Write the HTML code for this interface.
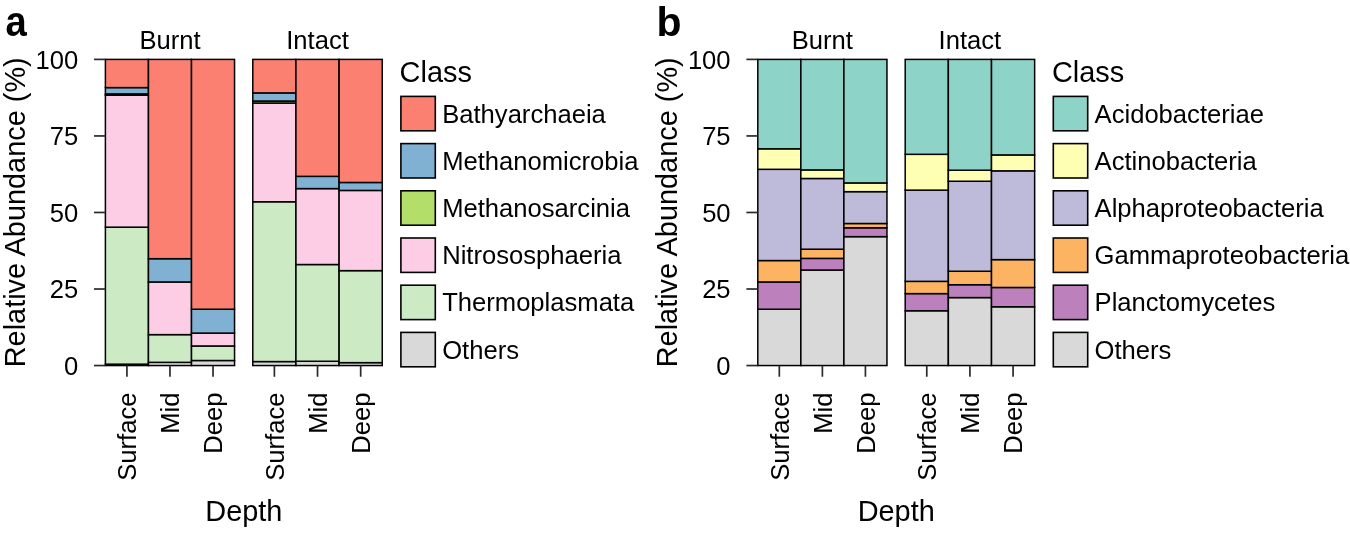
<!DOCTYPE html>
<html><head><meta charset="utf-8"><style>
html,body{margin:0;padding:0;background:#fff;}
body{width:1350px;height:535px;overflow:hidden;}
svg{display:block;will-change:transform;}
.t{font-family:"Liberation Sans",sans-serif;font-size:25.6px;}
.tt{font-family:"Liberation Sans",sans-serif;font-size:28.9px;}
.lab{font-family:"Liberation Sans",sans-serif;font-size:42px;font-weight:bold;}
</style></head><body>
<svg width="1350" height="535" viewBox="0 0 1350 535">
<rect width="1350" height="535" fill="#fff"/>
<g stroke="#000" stroke-width="1.5"><rect x="105.4" y="364.17" width="43.05" height="1.38" fill="#D9D9D9"/><rect x="105.4" y="227.17" width="43.05" height="137" fill="#CCEBC5"/><rect x="105.4" y="95.22" width="43.05" height="131.95" fill="#FCCDE5"/><rect x="105.4" y="93.9" width="43.05" height="1.32" fill="#B3DE69"/><rect x="105.4" y="87.6" width="43.05" height="6.31" fill="#80B1D3"/><rect x="105.4" y="59.4" width="43.05" height="28.2" fill="#FB8072"/><rect x="148.45" y="362.34" width="43.05" height="3.21" fill="#D9D9D9"/><rect x="148.45" y="334.63" width="43.05" height="27.71" fill="#CCEBC5"/><rect x="148.45" y="281.97" width="43.05" height="52.66" fill="#FCCDE5"/><rect x="148.45" y="258.7" width="43.05" height="23.27" fill="#80B1D3"/><rect x="148.45" y="59.4" width="43.05" height="199.3" fill="#FB8072"/><rect x="191.5" y="360.5" width="43.05" height="5.05" fill="#D9D9D9"/><rect x="191.5" y="345.96" width="43.05" height="14.54" fill="#CCEBC5"/><rect x="191.5" y="333.1" width="43.05" height="12.86" fill="#FCCDE5"/><rect x="191.5" y="309.22" width="43.05" height="23.88" fill="#80B1D3"/><rect x="191.5" y="59.4" width="43.05" height="249.82" fill="#FB8072"/><rect x="252.8" y="361.57" width="43.15" height="3.98" fill="#D9D9D9"/><rect x="252.8" y="201.76" width="43.15" height="159.81" fill="#CCEBC5"/><rect x="252.8" y="103.03" width="43.15" height="98.73" fill="#FCCDE5"/><rect x="252.8" y="101.04" width="43.15" height="1.99" fill="#B3DE69"/><rect x="252.8" y="92.92" width="43.15" height="8.11" fill="#80B1D3"/><rect x="252.8" y="59.4" width="43.15" height="33.52" fill="#FB8072"/><rect x="295.95" y="361.26" width="43.15" height="4.29" fill="#D9D9D9"/><rect x="295.95" y="264.52" width="43.15" height="96.74" fill="#CCEBC5"/><rect x="295.95" y="188.6" width="43.15" height="75.93" fill="#FCCDE5"/><rect x="295.95" y="176.35" width="43.15" height="12.25" fill="#80B1D3"/><rect x="295.95" y="59.4" width="43.15" height="116.95" fill="#FB8072"/><rect x="339.1" y="362.64" width="43.15" height="2.91" fill="#D9D9D9"/><rect x="339.1" y="270.64" width="43.15" height="92" fill="#CCEBC5"/><rect x="339.1" y="190.43" width="43.15" height="80.21" fill="#FCCDE5"/><rect x="339.1" y="182.47" width="43.15" height="7.96" fill="#80B1D3"/><rect x="339.1" y="59.4" width="43.15" height="123.07" fill="#FB8072"/><rect x="757.8" y="309.22" width="43.05" height="56.33" fill="#D9D9D9"/><rect x="757.8" y="281.97" width="43.05" height="27.25" fill="#BC80BD"/><rect x="757.8" y="260.54" width="43.05" height="21.43" fill="#FDB462"/><rect x="757.8" y="169.31" width="43.05" height="91.23" fill="#BEBADA"/><rect x="757.8" y="148.8" width="43.05" height="20.51" fill="#FFFFB3"/><rect x="757.8" y="59.4" width="43.05" height="89.4" fill="#8DD3C7"/><rect x="800.85" y="270.03" width="43.05" height="95.52" fill="#D9D9D9"/><rect x="800.85" y="258.4" width="43.05" height="11.63" fill="#BC80BD"/><rect x="800.85" y="249.21" width="43.05" height="9.18" fill="#FDB462"/><rect x="800.85" y="178.49" width="43.05" height="70.72" fill="#BEBADA"/><rect x="800.85" y="169.92" width="43.05" height="8.57" fill="#FFFFB3"/><rect x="800.85" y="59.4" width="43.05" height="110.52" fill="#8DD3C7"/><rect x="843.9" y="236.66" width="43.05" height="128.89" fill="#D9D9D9"/><rect x="843.9" y="227.78" width="43.05" height="8.88" fill="#BC80BD"/><rect x="843.9" y="223.5" width="43.05" height="4.29" fill="#FDB462"/><rect x="843.9" y="191.66" width="43.05" height="31.84" fill="#BEBADA"/><rect x="843.9" y="182.93" width="43.05" height="8.73" fill="#FFFFB3"/><rect x="843.9" y="59.4" width="43.05" height="123.53" fill="#8DD3C7"/><rect x="905.2" y="310.75" width="43.15" height="54.8" fill="#D9D9D9"/><rect x="905.2" y="293.6" width="43.15" height="17.14" fill="#BC80BD"/><rect x="905.2" y="281.36" width="43.15" height="12.25" fill="#FDB462"/><rect x="905.2" y="190.13" width="43.15" height="91.23" fill="#BEBADA"/><rect x="905.2" y="154.31" width="43.15" height="35.82" fill="#FFFFB3"/><rect x="905.2" y="59.4" width="43.15" height="94.91" fill="#8DD3C7"/><rect x="948.35" y="297.58" width="43.15" height="67.97" fill="#D9D9D9"/><rect x="948.35" y="284.73" width="43.15" height="12.86" fill="#BC80BD"/><rect x="948.35" y="271.26" width="43.15" height="13.47" fill="#FDB462"/><rect x="948.35" y="181.25" width="43.15" height="90.01" fill="#BEBADA"/><rect x="948.35" y="170.23" width="43.15" height="11.02" fill="#FFFFB3"/><rect x="948.35" y="59.4" width="43.15" height="110.83" fill="#8DD3C7"/><rect x="991.5" y="306.77" width="43.15" height="58.78" fill="#D9D9D9"/><rect x="991.5" y="287.48" width="43.15" height="19.29" fill="#BC80BD"/><rect x="991.5" y="259.62" width="43.15" height="27.86" fill="#FDB462"/><rect x="991.5" y="170.84" width="43.15" height="88.78" fill="#BEBADA"/><rect x="991.5" y="154.92" width="43.15" height="15.92" fill="#FFFFB3"/><rect x="991.5" y="59.4" width="43.15" height="95.52" fill="#8DD3C7"/></g>
<g stroke="#2b2b2b" stroke-width="1.7" stroke-linecap="butt"><line x1="94" y1="365.55" x2="105.4" y2="365.55"/><line x1="94" y1="289.01" x2="105.4" y2="289.01"/><line x1="94" y1="212.47" x2="105.4" y2="212.47"/><line x1="94" y1="135.94" x2="105.4" y2="135.94"/><line x1="94" y1="59.4" x2="105.4" y2="59.4"/><line x1="126.92" y1="365.55" x2="126.92" y2="376.75"/><line x1="169.97" y1="365.55" x2="169.97" y2="376.75"/><line x1="213.03" y1="365.55" x2="213.03" y2="376.75"/><line x1="274.38" y1="365.55" x2="274.38" y2="376.75"/><line x1="317.52" y1="365.55" x2="317.52" y2="376.75"/><line x1="360.68" y1="365.55" x2="360.68" y2="376.75"/><line x1="746.4" y1="365.55" x2="757.8" y2="365.55"/><line x1="746.4" y1="289.01" x2="757.8" y2="289.01"/><line x1="746.4" y1="212.47" x2="757.8" y2="212.47"/><line x1="746.4" y1="135.94" x2="757.8" y2="135.94"/><line x1="746.4" y1="59.4" x2="757.8" y2="59.4"/><line x1="779.32" y1="365.55" x2="779.32" y2="376.75"/><line x1="822.38" y1="365.55" x2="822.38" y2="376.75"/><line x1="865.42" y1="365.55" x2="865.42" y2="376.75"/><line x1="926.77" y1="365.55" x2="926.77" y2="376.75"/><line x1="969.92" y1="365.55" x2="969.92" y2="376.75"/><line x1="1013.08" y1="365.55" x2="1013.08" y2="376.75"/></g>
<g fill="#000"><text class="lab" transform="translate(5.6,36.4) scale(0.91,1.02)">a</text><text class="t" x="169.98" y="49.1" text-anchor="middle">Burnt</text><text class="t" x="317.52" y="49.1" text-anchor="middle">Intact</text><text class="t" x="78.2" y="374.85" text-anchor="end">0</text><text class="t" x="78.2" y="298.31" text-anchor="end">25</text><text class="t" x="78.2" y="221.78" text-anchor="end">50</text><text class="t" x="78.2" y="145.24" text-anchor="end">75</text><text class="t" x="78.2" y="68.7" text-anchor="end">100</text><text class="tt" transform="translate(24.7,212.28) rotate(-90)" text-anchor="middle">Relative Abundance (%)</text><text class="t" transform="translate(136.22,392.5) rotate(-90)" text-anchor="end">Surface</text><text class="t" transform="translate(179.28,392.5) rotate(-90)" text-anchor="end">Mid</text><text class="t" transform="translate(222.33,392.5) rotate(-90)" text-anchor="end">Deep</text><text class="t" transform="translate(283.68,392.5) rotate(-90)" text-anchor="end">Surface</text><text class="t" transform="translate(326.82,392.5) rotate(-90)" text-anchor="end">Mid</text><text class="t" transform="translate(369.98,392.5) rotate(-90)" text-anchor="end">Deep</text><text class="tt" x="243.82" y="521.3" text-anchor="middle">Depth</text><text class="tt" x="399.6" y="81.7">Class</text><rect x="400.9" y="96.4" width="34.4" height="34.4" fill="#FB8072" stroke="#000" stroke-width="1.6"/><text class="t" x="442.2" y="122.6">Bathyarchaeia</text><rect x="400.9" y="143.6" width="34.4" height="34.4" fill="#80B1D3" stroke="#000" stroke-width="1.6"/><text class="t" x="442.2" y="169.8">Methanomicrobia</text><rect x="400.9" y="190.8" width="34.4" height="34.4" fill="#B3DE69" stroke="#000" stroke-width="1.6"/><text class="t" x="442.2" y="217">Methanosarcinia</text><rect x="400.9" y="238" width="34.4" height="34.4" fill="#FCCDE5" stroke="#000" stroke-width="1.6"/><text class="t" x="442.2" y="264.2">Nitrososphaeria</text><rect x="400.9" y="285.2" width="34.4" height="34.4" fill="#CCEBC5" stroke="#000" stroke-width="1.6"/><text class="t" x="442.2" y="311.4">Thermoplasmata</text><rect x="400.9" y="332.4" width="34.4" height="34.4" fill="#D9D9D9" stroke="#000" stroke-width="1.6"/><text class="t" x="442.2" y="358.6">Others</text><text class="lab" x="656.4" y="36.2" style="font-size:41px">b</text><text class="t" x="822.38" y="49.1" text-anchor="middle">Burnt</text><text class="t" x="969.92" y="49.1" text-anchor="middle">Intact</text><text class="t" x="730.6" y="374.85" text-anchor="end">0</text><text class="t" x="730.6" y="298.31" text-anchor="end">25</text><text class="t" x="730.6" y="221.78" text-anchor="end">50</text><text class="t" x="730.6" y="145.24" text-anchor="end">75</text><text class="t" x="730.6" y="68.7" text-anchor="end">100</text><text class="tt" transform="translate(677.1,212.28) rotate(-90)" text-anchor="middle">Relative Abundance (%)</text><text class="t" transform="translate(788.62,392.5) rotate(-90)" text-anchor="end">Surface</text><text class="t" transform="translate(831.67,392.5) rotate(-90)" text-anchor="end">Mid</text><text class="t" transform="translate(874.72,392.5) rotate(-90)" text-anchor="end">Deep</text><text class="t" transform="translate(936.07,392.5) rotate(-90)" text-anchor="end">Surface</text><text class="t" transform="translate(979.22,392.5) rotate(-90)" text-anchor="end">Mid</text><text class="t" transform="translate(1022.38,392.5) rotate(-90)" text-anchor="end">Deep</text><text class="tt" x="896.22" y="521.3" text-anchor="middle">Depth</text><text class="tt" x="1052" y="81.7">Class</text><rect x="1053.3" y="96.4" width="34.4" height="34.4" fill="#8DD3C7" stroke="#000" stroke-width="1.6"/><text class="t" x="1094.6" y="122.6">Acidobacteriae</text><rect x="1053.3" y="143.6" width="34.4" height="34.4" fill="#FFFFB3" stroke="#000" stroke-width="1.6"/><text class="t" x="1094.6" y="169.8">Actinobacteria</text><rect x="1053.3" y="190.8" width="34.4" height="34.4" fill="#BEBADA" stroke="#000" stroke-width="1.6"/><text class="t" x="1094.6" y="217">Alphaproteobacteria</text><rect x="1053.3" y="238" width="34.4" height="34.4" fill="#FDB462" stroke="#000" stroke-width="1.6"/><text class="t" x="1094.6" y="264.2">Gammaproteobacteria</text><rect x="1053.3" y="285.2" width="34.4" height="34.4" fill="#BC80BD" stroke="#000" stroke-width="1.6"/><text class="t" x="1094.6" y="311.4">Planctomycetes</text><rect x="1053.3" y="332.4" width="34.4" height="34.4" fill="#D9D9D9" stroke="#000" stroke-width="1.6"/><text class="t" x="1094.6" y="358.6">Others</text></g>
</svg>
</body></html>
